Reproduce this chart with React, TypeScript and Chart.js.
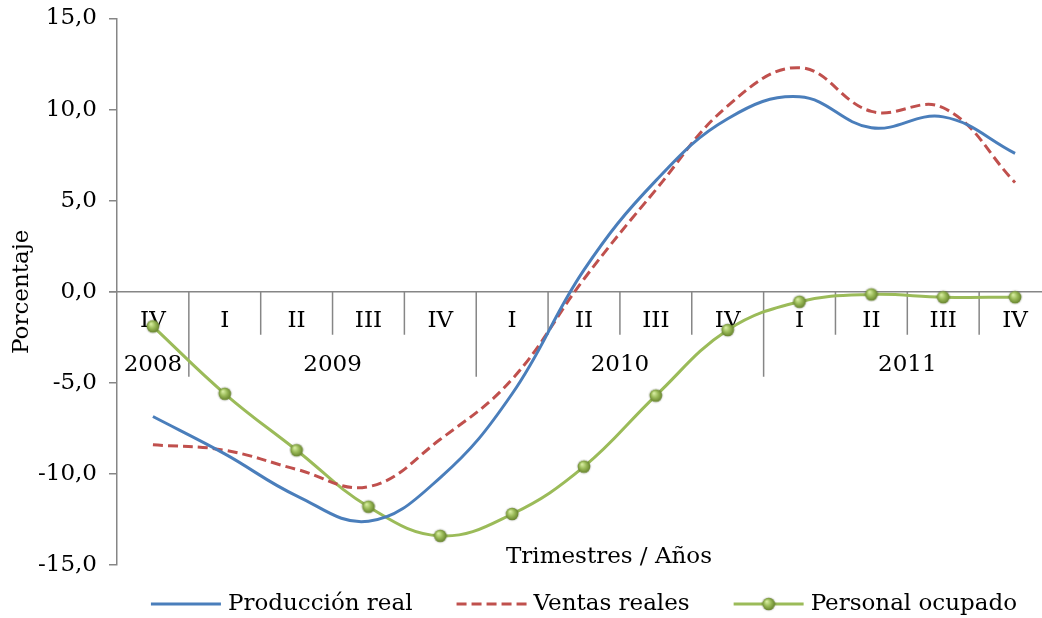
import React, { useEffect, useRef } from "react";
import { Chart, registerables } from "chart.js";

Chart.register(...registerables);

const quarters = ["IV", "I", "II", "III", "IV", "I", "II", "III", "IV", "I", "II", "III", "IV"];
const years = ["2008", "2009", "2009", "2009", "2009", "2010", "2010", "2010", "2010", "2011", "2011", "2011", "2011"];

const produccionReal = [-6.85, -8.9, -11.2, -12.6, -10.2, -5.6, 1.2, 6.1, 9.5, 10.7, 9.0, 9.6, 7.6];
const ventasReales = [-8.4, -8.7, -9.75, -10.7, -8.1, -4.8, 0.7, 5.6, 10.2, 12.3, 9.9, 10.1, 6.0];
const personalOcupado = [-1.9, -5.6, -8.7, -11.8, -13.4, -12.2, -9.6, -5.7, -2.1, -0.55, -0.15, -0.3, -0.3];

const yTicks = [-15, -10, -5, 0, 5, 10, 15];

const FONT = "'DejaVu Serif', serif";
const FS = 23;
const GRAY = "#868686";

function makeSphere(): HTMLCanvasElement {
  const c = document.createElement("canvas");
  c.width = 16;
  c.height = 16;
  const g = c.getContext("2d")!;
  g.shadowColor = "rgba(0,0,0,0.35)";
  g.shadowBlur = 2;
  const grad = g.createRadialGradient(6, 5.5, 0.5, 8, 8, 7);
  grad.addColorStop(0, "#d6eca0");
  grad.addColorStop(0.45, "#9bbb59");
  grad.addColorStop(1, "#5e7a26");
  g.fillStyle = grad;
  g.beginPath();
  g.arc(8, 8, 6.3, 0, Math.PI * 2);
  g.fill();
  return c;
}

export default function App() {
  const ref = useRef<HTMLCanvasElement>(null);

  useEffect(() => {
    const sphere = makeSphere();

    const axisPlugin = {
      id: "catAxis",
      beforeDatasetsDraw(chart: any) {
        const { ctx, chartArea, scales } = chart;
        const x = scales.x;
        const y = scales.y;
        const y0 = y.getPixelForValue(0);
        const half = (x.getPixelForValue(1) - x.getPixelForValue(0)) / 2;
        ctx.save();
        ctx.strokeStyle = GRAY;
        ctx.lineWidth = 1.5;
        ctx.beginPath();
        ctx.moveTo(chartArea.left - 8, y0);
        ctx.lineTo(chartArea.right, y0);
        ctx.stroke();
        for (let i = 1; i <= quarters.length; i++) {
          const bx = x.getPixelForValue(i) - half;
          const yearBreak = i === quarters.length || years[i] !== years[i - 1];
          ctx.beginPath();
          ctx.moveTo(bx, y0);
          ctx.lineTo(bx, y0 + (yearBreak ? 85 : 43));
          ctx.stroke();
        }
        ctx.fillStyle = "#000";
        ctx.font = `${FS}px ${FONT}`;
        ctx.textAlign = "center";
        ctx.textBaseline = "middle";
        quarters.forEach((q, i) => {
          ctx.fillText(q, x.getPixelForValue(i), y0 + 29);
        });
        let start = 0;
        for (let i = 1; i <= years.length; i++) {
          if (i === years.length || years[i] !== years[start]) {
            const cx = (x.getPixelForValue(start) + x.getPixelForValue(i - 1)) / 2;
            ctx.fillText(years[start], cx, y0 + 73);
            start = i;
          }
        }
        ctx.fillText("Trimestres / Años", (chartArea.left + chartArea.right) / 2 + 25, chartArea.bottom - 8);
        ctx.restore();
      },
      afterDraw(chart: any) {
        const { ctx, chartArea } = chart;
        const items = chart.data.datasets;
        ctx.save();
        ctx.font = `${FS}px ${FONT}`;
        const lineLen = 70;
        const gapText = 7;
        const gapItem = 44;
        const widths = items.map((d: any) => lineLen + gapText + ctx.measureText(d.label).width);
        const total = widths.reduce((a: number, b: number) => a + b, 0) + gapItem * (items.length - 1);
        let cx = (chartArea.left + chartArea.right) / 2 - total / 2;
        const ly = 604;
        items.forEach((d: any, i: number) => {
          ctx.strokeStyle = d.borderColor;
          ctx.lineWidth = d.borderWidth;
          ctx.setLineDash(d.borderDash || []);
          ctx.beginPath();
          ctx.moveTo(cx, ly);
          ctx.lineTo(cx + lineLen, ly);
          ctx.stroke();
          ctx.setLineDash([]);
          if (d.pointRadius > 0) {
            ctx.drawImage(sphere, cx + lineLen / 2 - 8, ly - 8);
          }
          ctx.fillStyle = "#000";
          ctx.textAlign = "left";
          ctx.textBaseline = "middle";
          ctx.fillText(d.label, cx + lineLen + gapText, ly);
          cx += widths[i] + gapItem;
        });
        ctx.restore();
      },
    };

    const chart = new Chart(ref.current!, {
      type: "line",
      data: {
        labels: quarters,
        datasets: [
          {
            label: "Producción real",
            data: produccionReal,
            borderColor: "#4a7ebb",
            borderWidth: 3,
            pointRadius: 0,
            tension: 0.4,
            fill: false,
          },
          {
            label: "Ventas reales",
            data: ventasReales,
            borderColor: "#c0504d",
            borderWidth: 3,
            borderDash: [10, 5],
            pointRadius: 0,
            tension: 0.4,
            fill: false,
          },
          {
            label: "Personal ocupado",
            data: personalOcupado,
            borderColor: "#9bbb59",
            borderWidth: 3,
            pointRadius: 6,
            pointStyle: sphere,
            tension: 0.4,
            fill: false,
          },
        ] as any,
      },
      options: {
        animation: false,
        responsive: false,
        maintainAspectRatio: false,
        layout: { padding: { left: 0, right: 7, top: 18.5, bottom: 53 } },
        plugins: { legend: { display: false }, tooltip: { enabled: false } },
        scales: {
          x: { type: "category", display: false, offset: true },
          y: {
            min: -15,
            max: 15,
            afterBuildTicks: (s: any) => {
              s.ticks = yTicks.map((v) => ({ value: v }));
            },
            afterFit: (s: any) => {
              s.width = 117;
              s.paddingTop = 0;
              s.paddingBottom = 0;
            },
            border: { display: true, color: GRAY, width: 1.5 },
            grid: { drawOnChartArea: false, color: GRAY, tickLength: 8, lineWidth: 1.5 },
            ticks: {
              color: "#000",
              font: { family: FONT, size: FS },
              padding: 12,
              callback: (v: any) => Number(v).toFixed(1).replace(".", ","),
            },
            title: {
              display: true,
              text: "Porcentaje",
              color: "#000",
              font: { family: FONT, size: FS },
              padding: { top: 8, bottom: 0 },
            },
          },
        },
      },
      plugins: [axisPlugin],
    });
    return () => chart.destroy();
  }, []);

  return (
    <div style={{ position: "absolute", left: 0, top: 0, width: 1042, height: 618, overflow: "hidden", background: "#fff" }}>
      <canvas ref={ref} width={1060} height={618} style={{ display: "block" }} />
    </div>
  );
}
